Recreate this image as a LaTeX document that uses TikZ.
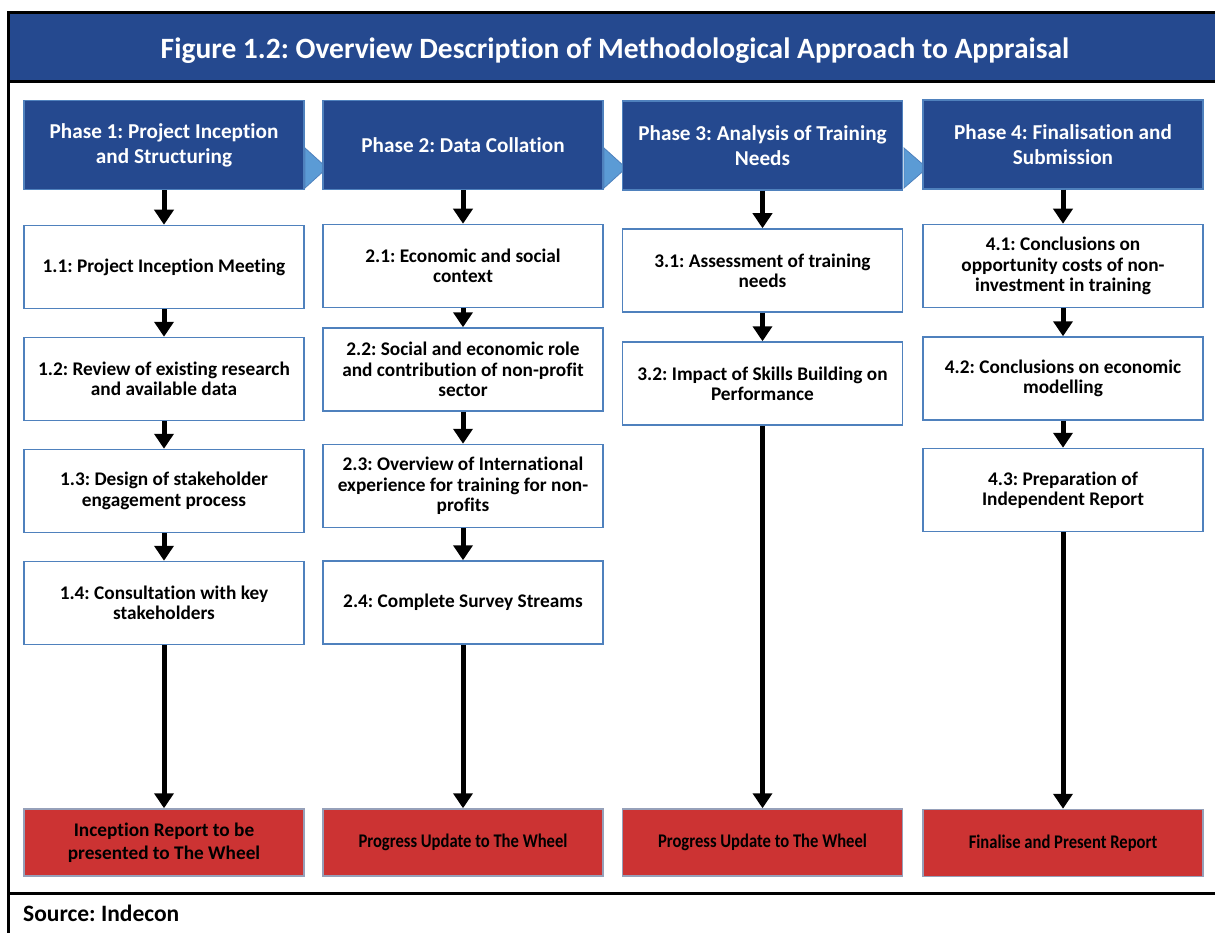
\documentclass[tikz,border=0pt]{standalone}
\usepackage{fontspec}
\setmainfont{Carlito}[Ligatures=NoCommon]
\usetikzlibrary{arrows.meta}
\definecolor{dblue}{RGB}{37,73,143}
\definecolor{bborder}{RGB}{79,129,189}
\definecolor{lblue}{RGB}{91,155,213}
\definecolor{rred}{RGB}{204,51,51}
\definecolor{rborder}{RGB}{150,160,185}
\frenchspacing
\begin{document}
\begin{tikzpicture}[x=1pt,y=-1pt,
 phase/.style={draw=bborder, line width=1.5pt, fill=dblue, text=white, minimum width=280pt, minimum height=89pt, align=center, font=\fontsize{21.2}{25}\selectfont\bfseries, inner sep=0pt},
 wbox/.style={draw=bborder, line width=1.5pt, fill=white, minimum width=280pt, minimum height=83pt, align=center, font=\fontsize{19.3}{20.3}\selectfont\bfseries, inner sep=0pt},
 rbox/.style={draw=rborder, line width=1.5pt, fill=rred, minimum width=280pt, minimum height=67pt, align=center, font=\fontsize{19.3}{23}\selectfont\bfseries, inner sep=0pt},
 narrow/.style={font=\fontsize{19.3}{23}\selectfont\bfseries\addfontfeature{FakeStretch=0.86}},
 chev/.style={fill=lblue, draw=bborder, line width=0.8pt},
 flow/.style={line width=5pt, -{Triangle[width=19pt,length=15pt]}},
 frameline/.style={line width=3pt}
]
\useasboundingbox (0,0) rectangle (1215,933);
% frame and title
\fill[dblue] (8,13) rectangle (1215,82);
\draw[frameline] (1215,13) -- (8,13) -- (8,933);
\draw[frameline] (8,82) -- (1215,82);
\draw[frameline] (8,893) -- (1215,893);
\node[text=white, font=\fontsize{29.5}{33}\selectfont\bfseries] (title) at (615,50.5) {Figure 1.2: Overview Description of Methodological Approach to Appraisal};
\node[anchor=west, font=\fontsize{23.5}{26}\selectfont\bfseries, inner sep=0pt] (src) at (23,913) {Source: Indecon};
% chevrons
\filldraw[chev] (305,148) -- (327,168) -- (305,188) -- cycle;
\filldraw[chev] (604,148) -- (626,168) -- (604,188) -- cycle;
\filldraw[chev] (904,148) -- (927,168) -- (904,188) -- cycle;
% phases
\node[phase] (p1) at (164,145) {Phase 1: Project Inception\\and Structuring};
\node[phase] (p2) at (463,145) {Phase 2: Data Collation};
\node[phase] (p3) at (762.5,145.5) {Phase 3: Analysis of Training\\Needs};
\node[phase] (p4) at (1063,144.5) {Phase 4: Finalisation and\\Submission};
% column 1
\node[wbox] (b11) at (164,267) {1.1: Project Inception Meeting};
\node[wbox] (b12) at (164,379) {1.2: Review of existing research\\and available data};
\node[wbox] (b13) at (164,491) {1.3: Design of stakeholder\\engagement process};
\node[wbox] (b14) at (164,603) {1.4: Consultation with key\\stakeholders};
\node[rbox] (r1) at (164,842.5) {Inception Report to be\\presented to The Wheel};
% column 2
\node[wbox] (b21) at (463,266) {2.1: Economic and social\\context};
\node[wbox] (b22) at (463,369.5) {2.2: Social and economic role\\and contribution of non-profit\\sector};
\node[wbox] (b23) at (463,486) {2.3: Overview of International\\experience for training for non-\\profits};
\node[wbox] (b24) at (463,602.5) {2.4: Complete Survey Streams};
\node[rbox, narrow] (r2) at (463,842.5) {Progress Update to The Wheel};
% column 3
\node[wbox] (b31) at (762.5,270.5) {3.1: Assessment of training\\needs};
\node[wbox] (b32) at (762.5,383.5) {3.2: Impact of Skills Building on\\Performance};
\node[rbox, narrow] (r3) at (762.5,842.5) {Progress Update to The Wheel};
% column 4
\node[wbox] (b41) at (1063,266) {4.1: Conclusions on\\opportunity costs of non-\\investment in training};
\node[wbox] (b42) at (1063,378.5) {4.2: Conclusions on economic\\modelling};
\node[wbox] (b43) at (1063,490) {4.3: Preparation of\\Independent Report};
\node[rbox, narrow] (r4) at (1063,843) {Finalise and Present Report};
% arrows
\draw[flow] (p1) -- (b11);
\draw[flow] (b11) -- (b12);
\draw[flow] (b12) -- (b13);
\draw[flow] (b13) -- (b14);
\draw[flow] (b14) -- (r1);
\draw[flow] (p2) -- (b21);
\draw[flow] (b21) -- (b22);
\draw[flow] (b22) -- (b23);
\draw[flow] (b23) -- (b24);
\draw[flow] (b24) -- (r2);
\draw[flow] (p3) -- (b31);
\draw[flow] (b31) -- (b32);
\draw[flow] (b32) -- (r3);
\draw[flow] (p4) -- (b41);
\draw[flow] (b41) -- (b42);
\draw[flow] (b42) -- (b43);
\draw[flow] (b43) -- (r4);
\end{tikzpicture}
\end{document}
